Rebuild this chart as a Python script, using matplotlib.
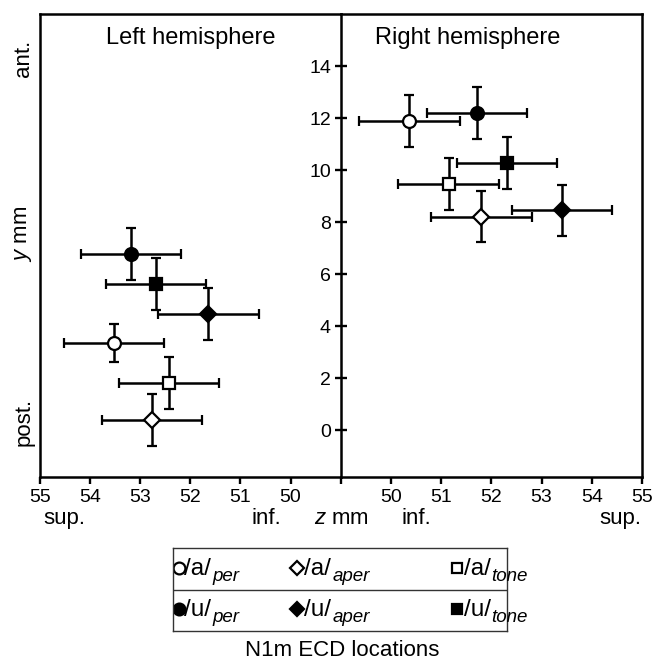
import numpy as np
import matplotlib
matplotlib.use('Agg')
import matplotlib.pyplot as plt
from matplotlib.transforms import offset_copy

plt.rcParams['font.family'] = ['Liberation Sans', 'DejaVu Sans']
plt.rcParams['mathtext.fontset'] = 'custom'
plt.rcParams['mathtext.rm'] = 'Liberation Sans'
plt.rcParams['mathtext.it'] = 'Liberation Sans:italic'

# conditions: order = /a/per, /a/aper, /a/tone, /u/per, /u/aper, /u/tone
vowels = ['/a/', '/a/', '/a/', '/u/', '/u/', '/u/']
stims = ['per', 'aper', 'tone', 'per', 'aper', 'tone']
markers = ['o', 'D', 's', 'o', 'D', 's']
filled = [False, False, False, True, True, True]

# left hemisphere (z mm, y mm)
left_z = [53.52, 52.77, 52.43, 53.19, 51.64, 52.69]
left_y = [3.35, 0.38, 1.80, 6.79, 4.46, 5.63]
left_zerr = [1.0, 1.0, 1.0, 1.0, 1.0, 1.0]
left_yerr = [0.74, 1.0, 1.0, 1.0, 1.0, 1.0]

# right hemisphere
right_z = [50.37, 51.80, 51.15, 51.71, 53.41, 52.31]
right_y = [11.88, 8.20, 9.47, 12.19, 8.45, 10.29]
right_zerr = [1.0, 1.0, 1.0, 1.0, 1.0, 1.0]
right_yerr = [1.0, 0.98, 1.0, 1.0, 0.98, 1.0]

left_ticks = [55, 54, 53, 52, 51, 50]
right_ticks = [50, 51, 52, 53, 54, 55]
y_ticks = [0, 2, 4, 6, 8, 10, 12, 14]

W, H = 653, 667
fig = plt.figure(figsize=(W / 100, H / 100), dpi=100)


def fx(x):
    return x / W


def fy(y):
    return 1 - y / H


x0, xm, x1 = 40, 340.7, 642
ytop, ybot = 14, 477
axL = fig.add_axes([fx(x0), fy(ybot), (xm - x0) / W, (ybot - ytop) / H])
axR = fig.add_axes([fx(xm), fy(ybot), (x1 - xm) / W, (ybot - ytop) / H])

lw = 1.8
for ax, zs, ys, zerr, yerr in [(axL, left_z, left_y, left_zerr, left_yerr),
                               (axR, right_z, right_y, right_zerr, right_yerr)]:
    for i in range(len(zs)):
        mfc = 'black' if filled[i] else 'white'
        ms = 9.3 if markers[i] != 'D' else 7.8
        ax.errorbar(zs[i], ys[i], xerr=zerr[i], yerr=yerr[i], fmt=markers[i],
                    color='black', mfc=mfc, mec='black', mew=1.6, ms=ms,
                    elinewidth=1.8, capsize=3.6, capthick=1.8, zorder=3)
    ax.set_ylim(-1.8, 16)
    for s in ax.spines.values():
        s.set_linewidth(lw)

axL.set_xlim(55, 49)
axL.spines['right'].set_visible(False)
axL.set_yticks([])
axL.set_xticks(left_ticks + [49])
axL.set_xticklabels([str(t) for t in left_ticks] + [''])

axR.set_xlim(49, 55)
axR.set_xticks(right_ticks)
axR.set_xticklabels([str(t) for t in right_ticks])
axR.set_yticks(y_ticks)
axR.set_yticklabels([str(t) for t in y_ticks])
axR.tick_params(axis='y', direction='inout', length=8, width=1.7,
                labelsize=14, pad=3)

for ax in (axL, axR):
    ax.tick_params(axis='x', direction='out', length=5, width=1.7,
                   labelsize=14, pad=4)

axL.text(0.5, 0.935, 'Left hemisphere', transform=axL.transAxes,
         ha='center', va='baseline', fontsize=17)
axR.text(0.42, 0.935, 'Right hemisphere', transform=axR.transAxes,
         ha='center', va='baseline', fontsize=17)

# axis annotations
fig.text(fx(24), fy(58), 'ant.', rotation=90, ha='center', va='center', fontsize=16)
fig.text(fx(24), fy(234), r'$y$ mm', rotation=90, ha='center', va='center', fontsize=16)
fig.text(fx(24), fy(422), 'post.', rotation=90, ha='center', va='center', fontsize=16)
for x, s in [(64, 'sup.'), (266, 'inf.'), (341, r'$z$ mm'), (416, 'inf.'), (620, 'sup.')]:
    fig.text(fx(x), fy(524), s, ha='center', va='baseline', fontsize=16)

# legend box
axLeg = fig.add_axes([fx(173), fy(631), 334 / W, 83 / H])
axLeg.set_xlim(0, 1)
axLeg.set_ylim(0, 1)
axLeg.set_xticks([])
axLeg.set_yticks([])
for s in axLeg.spines.values():
    s.set_linewidth(1.0)
    s.set_color('#333333')
axLeg.axhline(0.5, color='#333333', lw=1.0)

col_mark = [0.018, 0.372, 0.85]
col_text = [0.034, 0.393, 0.87]
row_mark = [0.76, 0.27]
row_text = [0.675, 0.18]
main_texts = []
for i in range(len(vowels)):
    r, c = i // 3, i % 3
    mfc = 'black' if filled[i] else 'white'
    ms = {'o': 8.5, 'D': 7, 's': 7.5}[markers[i]]
    axLeg.plot(col_mark[c], row_mark[r], marker=markers[i], mfc=mfc, mec='black',
               mew=1.6, ms=ms, ls='none')
    t = axLeg.text(col_text[c], row_text[r], vowels[i], ha='left', va='baseline',
                   fontsize=17.5)
    main_texts.append((t, i))

# subscripts placed after the main text
fig.canvas.draw()
renderer = fig.canvas.get_renderer()
for t, i in main_texts:
    bb = t.get_window_extent(renderer)
    xs, ys_ = t.get_position()
    tr = offset_copy(axLeg.transData, fig=fig, x=bb.width + 1, y=-6, units='dots')
    axLeg.text(xs, ys_, stims[i], transform=tr, ha='left', va='baseline',
               fontsize=13.5, style='italic')

fig.text(fx(342), fy(656), 'N1m ECD locations', ha='center', va='baseline', fontsize=16)

fig.savefig('out.png', dpi=100)
